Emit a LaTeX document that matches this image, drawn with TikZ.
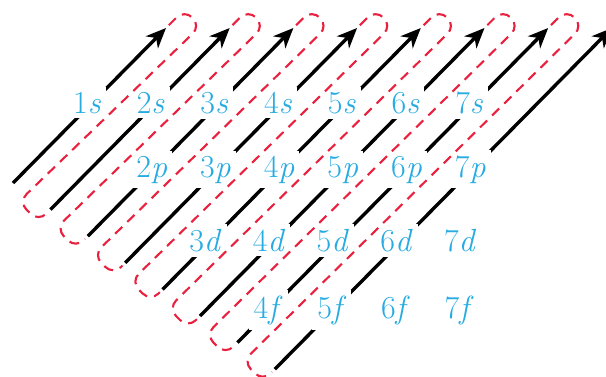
\documentclass[tikz,border=0pt]{standalone}
\usepackage{tikz}
\usetikzlibrary{arrows.meta,calc}
\definecolor{orbblue}{RGB}{38,171,226}
\definecolor{routered}{RGB}{233,32,62}

\begin{document}
\begin{tikzpicture}[x=1pt,y=-1pt,
    orb/.style={fill=white,inner sep=5pt,anchor=base,text=orbblue,
                font=\fontsize{32}{35}\selectfont},
    fillarrow/.style={line width=3.4pt,-{Stealth[length=20pt,width=17pt,inset=6pt]}},
    route/.style={draw=routered,line width=2.1pt,dash pattern=on 10pt off 7pt,
                  rounded corners=11pt}]
  \useasboundingbox (0,0) rectangle (606,376);
  \clip (0,0) rectangle (606,376);
  % ends of the diagonal arrows
  \foreach \k in {1,...,8}{
    \coordinate (b\k) at ({13+37.4*(\k-1)},{183+26.6*(\k-1)});
    \coordinate (t\k) at ({166+63.7*(\k-1)},28);
  }
  \foreach \k in {1,...,8}
    \draw[fillarrow] (b\k) -- (t\k);
  % subshells, one row per l
  \foreach \n in {1,...,7}
    \node[orb] (n\n s) at ({87+63.7*(\n-1)},113) {\n\textit{s}};
  \foreach \n in {2,...,7}
    \node[orb] (n\n p) at ({88+63.7*(\n-1)},177) {\n\textit{p}};
  \foreach \n in {3,...,7}
    \node[orb] (n\n d) at ({78+63.7*(\n-1)},251) {\n\textit{d}};
  \foreach \n in {4,...,7}
    \node[orb] (n\n f) at ({77+63.7*(\n-1)},318) {\n\textit{f}};
  % filling order: from the tip of one arrow to the foot of the next
  \foreach \k [count=\j from 2] in {1,...,7}
    \draw[route] ($(t\k)+(2.8,-2.8)$) -- ($(t\k)+(18.4,-18.4)$) -- ($(t\k)+(34.7,-2.1)$)
      -- ($(b\j)+(-31.8,-7.8)$) -- ($(b\j)+(-12,12)$) -- ($(b\j)+(-2.8,2.8)$);
\end{tikzpicture}
\end{document}
